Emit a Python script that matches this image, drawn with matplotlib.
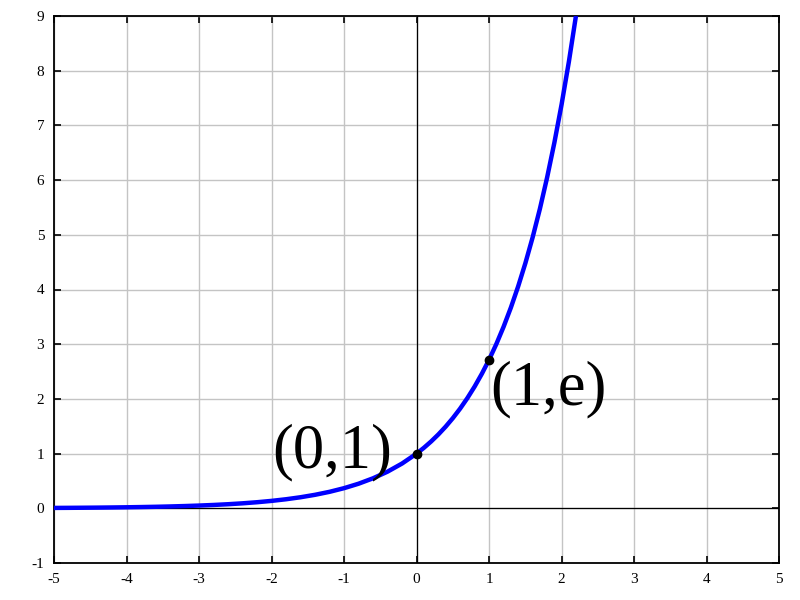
import matplotlib
matplotlib.use("Agg")
import matplotlib.pyplot as plt

x_vals = [-5.0, -4.8, -4.6, -4.4, -4.2, -4.0, -3.8, -3.6, -3.4, -3.2, -3.0,
          -2.8, -2.6, -2.4, -2.2, -2.0, -1.8, -1.6, -1.4, -1.2, -1.0,
          -0.8, -0.6, -0.4, -0.2, 0.0, 0.1, 0.2, 0.3, 0.4, 0.5, 0.6, 0.7,
          0.8, 0.9, 1.0, 1.1, 1.2, 1.3, 1.4, 1.5, 1.6, 1.7, 1.8, 1.9, 2.0,
          2.1, 2.197]
y_vals = [0.0067, 0.0082, 0.0101, 0.0123, 0.0150, 0.0183, 0.0224, 0.0273,
          0.0334, 0.0408, 0.0498, 0.0608, 0.0743, 0.0907, 0.1108, 0.1353,
          0.1653, 0.2019, 0.2466, 0.3012, 0.3679, 0.4493, 0.5488, 0.6703,
          0.8187, 1.0, 1.1052, 1.2214, 1.3499, 1.4918, 1.6487, 1.8221,
          2.0138, 2.2255, 2.4596, 2.7183, 3.0042, 3.3201, 3.6693, 4.0552,
          4.4817, 4.9530, 5.4739, 6.0496, 6.6859, 7.3891, 8.1662, 9.0]
point_x = [0, 1]
point_y = [1, 2.71828]
point_labels = ["(0,1)", "(1,e)"]
x_ticks = [-5, -4, -3, -2, -1, 0, 1, 2, 3, 4, 5]
y_ticks = [-1, 0, 1, 2, 3, 4, 5, 6, 7, 8, 9]

plt.rcParams['font.family'] = ['Liberation Serif', 'DejaVu Serif']

fig = plt.figure(figsize=(8, 6), dpi=100)
ax = fig.add_axes([0.0675, 0.0617, 0.9065, 0.9116])

ax.set_xlim(-5, 5)
ax.set_ylim(-1, 9)
ax.set_xticks(x_ticks)
ax.set_yticks(y_ticks)
ax.set_xticklabels([str(t) for t in x_ticks])
ax.set_yticklabels([str(t) for t in y_ticks])
ax.grid(True, color='#c4c4c4', linewidth=1.0)
ax.set_axisbelow(True)
ax.axhline(0, color='black', linewidth=0.9, zorder=2)
ax.axvline(0, color='black', linewidth=0.9, zorder=2)

ax.plot(x_vals, y_vals, color='#0000ff', linewidth=3.2, zorder=3,
        solid_capstyle='butt')
ax.plot(point_x, point_y, 'o', color='black', markersize=6, zorder=4)

ax.text(-0.34, 0.74, point_labels[0], fontsize=45, ha='right', va='baseline')
ax.text(1.01, 1.89, point_labels[1], fontsize=45, ha='left', va='baseline')

ax.tick_params(direction='in', length=5, width=1.2, top=True, right=True,
               labelsize=11, pad=7)
for s in ax.spines.values():
    s.set_linewidth(1.3)

fig.savefig("out.png", dpi=100)
